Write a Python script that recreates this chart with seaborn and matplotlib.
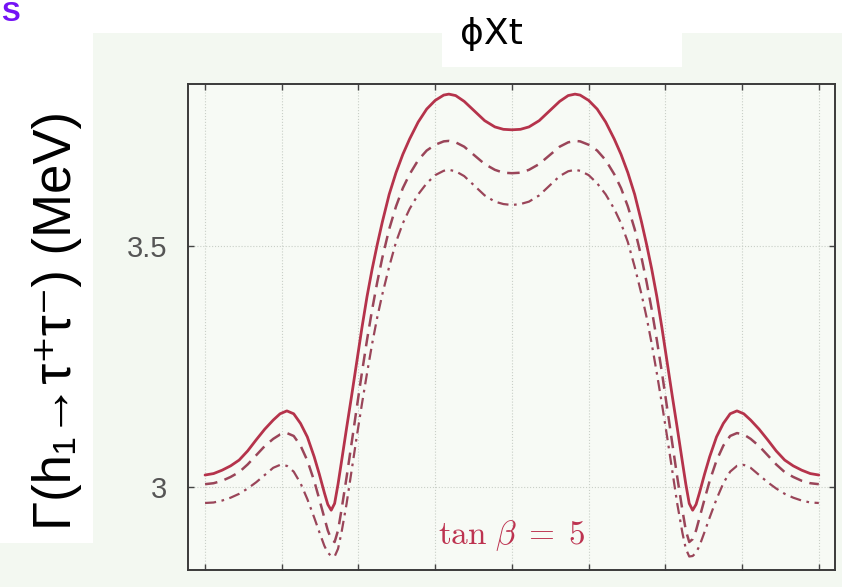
import matplotlib
matplotlib.use("Agg")
import matplotlib.pyplot as plt
import seaborn as sns
import pandas as pd
from matplotlib.patches import Rectangle

# phase of X_t in degrees
phi_deg = [0, 5, 10, 15, 20, 25, 30, 35, 40, 44, 48, 52, 56, 60, 64, 67, 70, 72, 74, 76,
           78, 80, 83, 86, 89, 92, 95, 98, 101, 104, 108, 112, 116, 120, 125, 130, 135,
           140, 143, 147, 152, 158, 164, 170, 175, 180,
           185, 190, 196, 202, 208, 213, 217, 220, 225, 230, 235, 240, 244, 248, 252,
           256, 259, 262, 265, 268, 271, 274, 277, 280, 282, 284, 286, 288, 290, 293,
           296, 300, 304, 308, 312, 316, 320, 325, 330, 335, 340, 345, 350, 355, 360]

# decay width Gamma(h1 -> tau+ tau-) in MeV, three parameter choices
width_solid = [3.025, 3.028, 3.035, 3.044, 3.056, 3.075, 3.098, 3.120, 3.139, 3.152,
               3.158, 3.152, 3.132, 3.104, 3.063, 3.027, 2.988, 2.964, 2.952, 2.966,
               3.006, 3.052, 3.122, 3.190, 3.260, 3.330, 3.395, 3.452, 3.503, 3.550,
               3.607, 3.652, 3.690, 3.722, 3.757, 3.784, 3.802, 3.813, 3.815, 3.812,
               3.800, 3.780, 3.760, 3.747, 3.742, 3.741,
               3.742, 3.747, 3.760, 3.780, 3.800, 3.812, 3.815, 3.813, 3.802, 3.784,
               3.757, 3.722, 3.690, 3.652, 3.607, 3.550, 3.503, 3.452, 3.395, 3.330,
               3.260, 3.190, 3.122, 3.052, 3.006, 2.966, 2.952, 2.964, 2.988, 3.027,
               3.063, 3.104, 3.132, 3.152, 3.158, 3.152, 3.139, 3.120, 3.098, 3.075,
               3.056, 3.044, 3.035, 3.028, 3.025]

width_dashed = [3.006, 3.008, 3.013, 3.021, 3.031, 3.047, 3.066, 3.085, 3.100, 3.109,
                3.112, 3.106, 3.086, 3.055, 3.013, 2.975, 2.936, 2.910, 2.892, 2.886,
                2.910, 2.952, 3.020, 3.092, 3.165, 3.237, 3.305, 3.368, 3.425, 3.476,
                3.535, 3.582, 3.620, 3.649, 3.678, 3.698, 3.710, 3.717, 3.718, 3.715,
                3.706, 3.688, 3.670, 3.658, 3.652, 3.651,
                3.652, 3.658, 3.670, 3.688, 3.706, 3.715, 3.718, 3.717, 3.710, 3.698,
                3.678, 3.649, 3.620, 3.582, 3.535, 3.476, 3.425, 3.368, 3.305, 3.237,
                3.165, 3.092, 3.020, 2.952, 2.910, 2.886, 2.892, 2.910, 2.936, 2.975,
                3.013, 3.055, 3.086, 3.106, 3.112, 3.109, 3.100, 3.085, 3.066, 3.047,
                3.031, 3.021, 3.013, 3.008, 3.006]

width_dashdot = [2.967, 2.968, 2.972, 2.978, 2.986, 2.997, 3.010, 3.025, 3.040, 3.046,
                 3.044, 3.032, 3.008, 2.975, 2.937, 2.907, 2.878, 2.864, 2.857, 2.856,
                 2.872, 2.905, 2.965, 3.035, 3.105, 3.172, 3.236, 3.297, 3.352, 3.400,
                 3.457, 3.508, 3.547, 3.577, 3.607, 3.630, 3.647, 3.656, 3.658, 3.655,
                 3.645, 3.625, 3.605, 3.592, 3.587, 3.585,
                 3.587, 3.592, 3.605, 3.625, 3.645, 3.655, 3.658, 3.656, 3.647, 3.630,
                 3.607, 3.577, 3.547, 3.508, 3.457, 3.400, 3.352, 3.297, 3.236, 3.172,
                 3.105, 3.035, 2.965, 2.905, 2.872, 2.856, 2.857, 2.864, 2.878, 2.907,
                 2.937, 2.975, 3.008, 3.032, 3.044, 3.046, 3.040, 3.025, 3.010, 2.997,
                 2.986, 2.978, 2.972, 2.968, 2.967]

x_ticks = [0, 45, 90, 135, 180, 225, 270, 315, 360]
y_ticks = [3.0, 3.5]
y_tick_labels = ["3", "3.5"]

sns.set_theme(style="ticks")
plt.rcParams["font.family"] = ["Liberation Sans", "DejaVu Sans"]
plt.rcParams["mathtext.fontset"] = "stix"

W, H = 842, 587
fig = plt.figure(figsize=(W / 100, H / 100), dpi=100, facecolor="#f3f8f1")

def px_rect(x0, y0, x1, y1, color):
    fig.patches.append(Rectangle((x0 / W, 1 - y1 / H), (x1 - x0) / W, (y1 - y0) / H,
                                 transform=fig.transFigure, facecolor=color,
                                 edgecolor="none", zorder=0))

px_rect(0, 0, W, 33, "white")
px_rect(0, 0, 93, 543, "white")
px_rect(442, 0, 682, 67, "white")

ax = fig.add_axes([188 / W, 1 - 570 / H, (835 - 188) / W, (570 - 84) / H])
ax.set_facecolor("#f7faf5")

df = pd.DataFrame({"phi": phi_deg, "solid": width_solid,
                   "dashed": width_dashed, "dashdot": width_dashdot})

sns.lineplot(data=df, x="phi", y="solid", ax=ax, color="#b5334b", lw=2.0,
             sort=False)
sns.lineplot(data=df, x="phi", y="dashed", ax=ax, color="#9a4559", lw=1.8,
             dashes=(5, 3), sort=False)
sns.lineplot(data=df, x="phi", y="dashdot", ax=ax, color="#9a4559", lw=1.6,
             dashes=(5, 2.5, 1.2, 2.5), sort=False)

ax.set_xlim(-10, 369.5)
ax.set_ylim(2.828, 3.836)
ax.set_xticks(x_ticks)
ax.set_xticklabels([])
ax.set_yticks(y_ticks)
ax.set_yticklabels(y_tick_labels)
ax.set_xlabel("")
ax.set_ylabel("")
ax.tick_params(direction="in", length=4, width=1, colors="#444444",
               top=True, right=True, labelsize=21, labelcolor="#555555", pad=15)
ax.grid(True, color="#c9cfc7", lw=0.8, ls=":")
for s in ax.spines.values():
    s.set_color("#3a3a3a")
    s.set_linewidth(1.4)

ax.text(180, 2.90, r"$\tan\,\beta\;=\;5$", color="#bd3350", fontsize=24,
        ha="center", va="center", math_fontfamily="cm")

fig.text(491 / W, 1 - 34 / H, "ϕXt", fontsize=26, ha="center", va="center",
         color="black", family=["DejaVu Sans"])

fig.text(57 / W, 1 - 320 / H, "Γ(h₁→τ⁺τ⁻) (MeV)",
         rotation=90, fontsize=38, ha="center", va="center", color="black",
         family=["Liberation Sans", "DejaVu Sans"])

fig.text(1 / W, 1 - 1 / H, "S", fontsize=20, fontweight="bold", color="#7412f5",
         ha="left", va="top")

fig.savefig("out.png", dpi=100, facecolor=fig.get_facecolor())
